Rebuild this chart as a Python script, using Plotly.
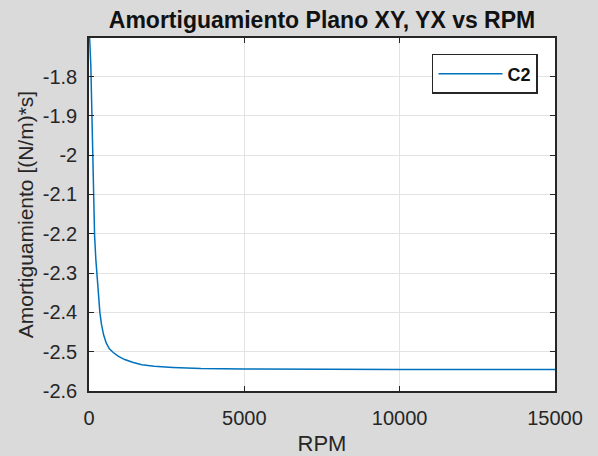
import plotly.graph_objects as go

rpm = [0, 30, 60, 90, 120, 150, 180, 220, 260, 300, 350, 400, 470, 550, 650, 780,
       950, 1150, 1400, 1700, 2100, 2700, 3600, 5000, 7500, 10000, 12500, 15000]
c2 = [-1.665, -1.705, -1.775, -1.885, -1.995, -2.115, -2.205, -2.265, -2.315, -2.355,
      -2.400, -2.430, -2.457, -2.477, -2.492, -2.502, -2.512, -2.520, -2.527, -2.533,
      -2.537, -2.540, -2.543, -2.544, -2.545, -2.545, -2.545, -2.545]

x_ticks = [0, 5000, 10000, 15000]
y_ticks = [-2.6, -2.5, -2.4, -2.3, -2.2, -2.1, -2.0, -1.9, -1.8]
y_labels = ["-2.6", "-2.5", "-2.4", "-2.3", "-2.2", "-2.1", "-2", "-1.9", "-1.8"]

axcol = "#262626"
fnt = "Liberation Sans, Arial"
fig = go.Figure()
fig.add_trace(go.Scatter(x=rpm, y=c2, mode="lines", name="<b>C2</b>",
                         line=dict(color="#0072BD", width=1.5)))

fig.update_layout(
    width=598, height=456,
    margin=dict(l=89, r=43, t=38, b=65),
    paper_bgcolor="#dadada", plot_bgcolor="white",
    font=dict(family=fnt, size=20, color=axcol),
    title=dict(text="<b>Amortiguamiento Plano XY, YX vs RPM</b>",
               x=0.5385, xanchor="center", y=0.957, yanchor="middle",
               font=dict(size=23, color="#111111", family=fnt)),
    showlegend=True,
    legend=dict(x=0.9635, xanchor="right", y=0.9547, yanchor="top",
                bgcolor="white", bordercolor=axcol, borderwidth=1.5,
                font=dict(size=18, color="#111111", family=fnt),
                itemwidth=64, tracegroupgap=0),
)
fig.update_xaxes(range=[0, 15000], tickvals=x_ticks, ticktext=[str(v) for v in x_ticks],
                 showgrid=True, gridcolor="#e3e3e3", gridwidth=1.2,
                 showline=True, linecolor=axcol, linewidth=1.5, mirror="ticks",
                 ticks="inside", ticklen=5, tickcolor=axcol, zeroline=False,
                 ticklabelstandoff=8, automargin=False,
                 title=dict(text="RPM", font=dict(size=22, color=axcol, family=fnt), standoff=11))
fig.update_yaxes(range=[-2.6, -1.702], tickvals=y_ticks, ticktext=y_labels,
                 showgrid=True, gridcolor="#e3e3e3", gridwidth=1.2,
                 showline=True, linecolor=axcol, linewidth=1.5, mirror="ticks",
                 ticks="inside", ticklen=5, tickcolor=axcol, zeroline=False,
                 ticklabelstandoff=6, automargin=False,
                 title=dict(text="Amortiguamiento [(N/m)*s]",
                            font=dict(size=21, color=axcol, family=fnt), standoff=3))

fig.update_traces(showlegend=True)
fig.write_html("out.html")
